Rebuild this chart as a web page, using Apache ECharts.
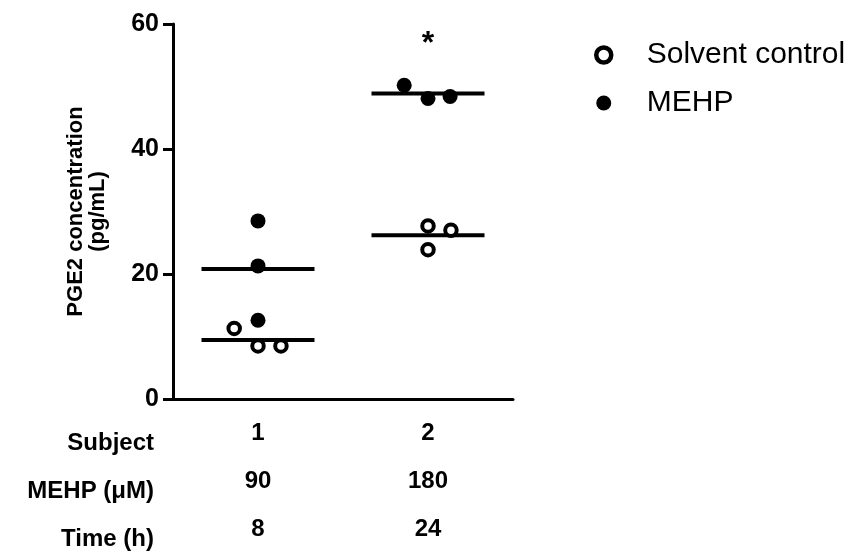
<!DOCTYPE html>
<html>
<head>
<meta charset="utf-8">
<script src="https://cdn.jsdelivr.net/npm/echarts@6/dist/echarts.min.js"></script>
<style>html,body{margin:0;padding:0;background:#fff;overflow:hidden;}#c{width:858px;height:553px;}</style>
</head>
<body>
<div id="c"></div>
<script>
// ---- data ----
var subjects = ['1', '2'];
var mehpConc = ['90', '180'];
var timeH = ['8', '24'];
var rowTitles = ['Subject', 'MEHP (\u03bcM)', 'Time (h)'];
var solventValues = [[11.3, 8.5, 8.5], [27.7, 23.9, 27.0]];
var solventJitter = [[-0.28, 0, 0.27], [0, 0, 0.27]];
var mehpValues = [[28.5, 21.3, 12.6], [50.2, 48.1, 48.4]];
var mehpJitter = [[0, 0, 0], [-0.28, 0, 0.26]];
var significance = ['', '*'];
var yTicks = [0, 20, 40, 60];

var FONT = "'Liberation Sans', Arial, sans-serif";
function pos(i) { return 2 * i + 1; }
function pts(vals, jit) {
  var out = [];
  vals.forEach(function (arr, i) {
    arr.forEach(function (v, j) { out.push([pos(i) + jit[i][j], v]); });
  });
  return out;
}
function mean(a) { return a.reduce(function (s, v) { return s + v; }, 0) / a.length; }
var meanData = [];
solventValues.forEach(function (a, i) { meanData.push([pos(i), mean(a)]); });
mehpValues.forEach(function (a, i) { meanData.push([pos(i), mean(a)]); });
var sigData = significance.map(function (s, i) {
  return { value: [pos(i), Math.max.apply(null, mehpValues[i].concat(solventValues[i])) + 6.5], label: { formatter: s } };
});

var chart = echarts.init(document.getElementById('c'), null, { renderer: 'canvas' });
chart.setOption({
  animation: false,
  backgroundColor: '#fff',
  textStyle: { fontFamily: FONT },
  grid: { left: 173, width: 340, top: 24, height: 387, containLabel: false },
  legend: {
    orient: 'vertical', left: 589, top: 35, itemGap: 18,
    itemWidth: 16, itemHeight: 15,
    data: [
      { name: 'Solvent control', icon: 'circle', itemStyle: { color: '#fff', borderColor: '#000', borderWidth: 4.5, opacity: 1 } },
      { name: 'MEHP', icon: 'circle', itemStyle: { color: '#000', borderWidth: 0, opacity: 1 } }
    ],
    textStyle: { fontFamily: FONT, fontSize: 30, lineHeight: 30, color: '#000', padding: [0, 0, 0, 30] }
  },
  xAxis: {
    type: 'value', min: 0, max: 4, interval: 1,
    axisLine: { show: true, lineStyle: { color: '#000', width: 3 } },
    axisTick: { show: false },
    splitLine: { show: false },
    axisLabel: {
      show: true, margin: 10, color: '#000', fontFamily: FONT, fontWeight: 'bold', fontSize: 24, lineHeight: 48,
      formatter: function (v) {
        var i = (v - 1) / 2;
        if (i === Math.round(i) && i >= 0 && i < subjects.length) {
          return subjects[i] + '\n' + mehpConc[i] + '\n' + timeH[i];
        }
        return '';
      }
    }
  },
  yAxis: {
    type: 'value', min: yTicks[0], max: yTicks[yTicks.length - 1], interval: 20,
    name: 'PGE2 concentration\n(pg/mL)', nameLocation: 'middle', nameGap: 64, nameRotate: 90,
    nameTextStyle: { fontFamily: FONT, fontWeight: 'bold', fontSize: 22, color: '#000', lineHeight: 22 },
    axisLine: { show: true, lineStyle: { color: '#000', width: 3 } },
    axisTick: { show: true, length: 10, lineStyle: { color: '#000', width: 3 } },
    splitLine: { show: false },
    axisLabel: { margin: 14, color: '#000', fontFamily: FONT, fontWeight: 'bold', fontSize: 25 }
  },
  graphic: rowTitles.map(function (t, k) {
    return {
      type: 'text', right: 858 - 154, top: 431 + 48 * k,
      style: { text: t, font: 'bold 24px ' + FONT, fill: '#000', textAlign: 'right' }
    };
  }),
  series: [
    {
      name: 'mean', type: 'scatter', symbol: 'rect', symbolSize: [113, 4], z: 1,
      itemStyle: { color: '#000', opacity: 1 }, data: meanData, silent: true
    },
    {
      name: 'Solvent control', type: 'scatter', symbol: 'circle', symbolSize: 11.5, z: 3,
      itemStyle: { color: '#fff', borderColor: '#000', borderWidth: 4, opacity: 1 },
      data: pts(solventValues, solventJitter)
    },
    {
      name: 'MEHP', type: 'scatter', symbol: 'circle', symbolSize: 15, z: 3,
      itemStyle: { color: '#000', opacity: 1 },
      data: pts(mehpValues, mehpJitter)
    },
    {
      name: 'sig', type: 'scatter', symbolSize: 1, symbol: 'circle', z: 4, silent: true,
      itemStyle: { color: '#fff', opacity: 0 },
      label: { show: true, position: 'inside', color: '#000', opacity: 1, fontFamily: FONT, fontWeight: 'bold', fontSize: 32 },
      data: sigData
    }
  ]
});
</script>
</body>
</html>
